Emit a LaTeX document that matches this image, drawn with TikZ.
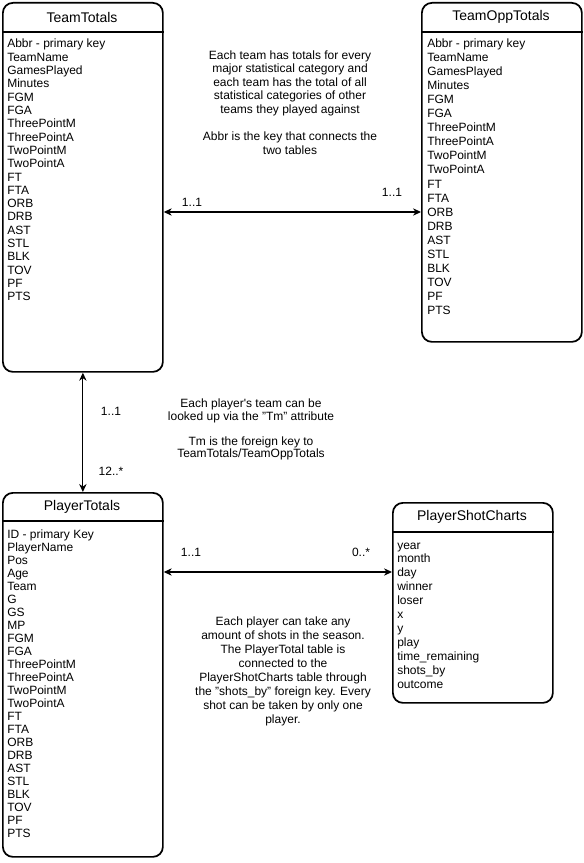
\documentclass[tikz,border=0pt]{standalone}
\usepackage{fontspec}
\setmainfont{Liberation Sans}
\usetikzlibrary{arrows.meta}

\begin{document}
\begin{tikzpicture}[x=0.75pt, y=-0.75pt, >={Stealth[length=6pt, width=5.5pt]},
    entity/.style={draw, line width=1.3pt, rounded corners=7.5pt, inner sep=0, anchor=north west, minimum width=120pt},
    head/.style={font=\fontsize{10.5}{12}\selectfont},
    field/.style={anchor=base west, inner sep=0, font=\fontsize{9}{10}\selectfont},
    card/.style={inner sep=0, font=\fontsize{9}{10}\selectfont},
    note/.style={align=center, inner sep=0},
    rel/.style={<->, line width=0.8pt}]

    \useasboundingbox[fill=white] (0,0) rectangle (583,863);

    % Tables
    \node[entity, minimum height=276.75pt] (teamTot) at (2,2) {};
    \node[entity, minimum height=254.25pt] (oppTot) at (421,2) {};
    \node[entity, minimum height=273pt] (playerTot) at (2,492) {};
    \node[entity, minimum height=150pt] (shotCharts) at (392,502) {};

    % Headers
    \node[head] (teamTot-head) at (82,17) {TeamTotals};
    \node[head] (oppTot-head) at (501,17) {TeamOppTotals};
    \node[head] (playerTot-head) at (82,507) {PlayerTotals};
    \node[head] (shotCharts-head) at (472,517) {PlayerShotCharts};
    \draw[line width=1pt] (teamTot.west |- 0,32) -- (teamTot.east |- 0,32);
    \draw[line width=1pt] (oppTot.west |- 0,32) -- (oppTot.east |- 0,32);
    \draw[line width=1pt] (playerTot.west |- 0,521) -- (playerTot.east |- 0,521);
    \draw[line width=1pt] (shotCharts.west |- 0,532) -- (shotCharts.east |- 0,532);

    % Fields - TeamTotals
    \foreach \f [count=\i] in {Abbr - primary key, TeamName, GamesPlayed, Minutes, FGM, FGA,
        ThreePointM, ThreePointA, TwoPointM, TwoPointA, FT, FTA, ORB, DRB, AST, STL, BLK, TOV, PF, PTS}
    {
        \node[field] (teamTot-\i) at (7,{48+(\i-1)*13.3}) {\f};
    }

    % Fields - TeamOppTotals
    \foreach \f [count=\i] in {Abbr - primary key, TeamName, GamesPlayed, Minutes, FGM, FGA,
        ThreePointM, ThreePointA, TwoPointM, TwoPointA, FT, FTA, ORB, DRB, AST, STL, BLK, TOV, PF, PTS}
    {
        \node[field] (oppTot-\i) at (427,{48+(\i-1)*14}) {\f};
    }

    % Fields - PlayerTotals
    \foreach \f [count=\i] in {ID - primary Key, PlayerName, Pos, Age, Team, G, GS, MP, FGM, FGA,
        ThreePointM, ThreePointA, TwoPointM, TwoPointA, FT, FTA, ORB, DRB, AST, STL, BLK, TOV, PF, PTS}
    {
        \node[field] (playerTot-\i) at (7,{538+(\i-1)*13}) {\f};
    }

    % Fields - PlayerShotCharts
    \foreach \f [count=\i] in {year, month, day, winner, loser, x, y, play,
        time\_remaining, shots\_by, outcome}
    {
        \node[field] (shotCharts-\i) at (397,{549+(\i-1)*13.9}) {\f};
    }

    % Relations
    \coordinate (levelTeam) at (0,212);
    \coordinate (levelShot) at (0,572);
    \draw[rel] (teamTot.east |- levelTeam) -- (oppTot.west |- levelTeam);
    \draw[rel] (teamTot.south) -- (playerTot.north);
    \draw[rel] (playerTot.east |- levelShot) -- (shotCharts.west |- levelShot);

    % Cardinalities
    \node[card] (cardTeam) at (192,202) {1..1};
    \node[card] (cardOpp) at (392,192) {1..1};
    \node[card] (cardUp) at (111,411) {1..1};
    \node[card] (cardDown) at (111,471) {12..*};
    \node[card] (cardPlayer) at (191,552) {1..1};
    \node[card] (cardShot) at (361,552) {0..*};

    % Notes
    \node[note, font=\fontsize{9}{10.2}\selectfont] (noteTeam) at (290,102.5)
        {Each team has totals for every\\major statistical category and\\each team has the total of all\\statistical categories of other\\teams they played against\\[10.2pt]Abbr is the key that connects the\\two tables};
    \node[note, font=\fontsize{9}{9.4}\selectfont] (notePlayer) at (251,429.5)
        {Each player\textquotesingle s team can be\\looked up via the "Tm" attribute\\[9.4pt]Tm is the foreign key to\\TeamTotals/TeamOppTotals};
    \node[note, font=\fontsize{9}{10.5}\selectfont] (noteShot) at (283,671)
        {Each player can take any\\amount of shots in the season.\\The PlayerTotal table is\\connected to the\\PlayerShotCharts table through\\the "shots\_by" foreign key. Every\\shot can be taken by only one\\player.};

\end{tikzpicture}
\end{document}
